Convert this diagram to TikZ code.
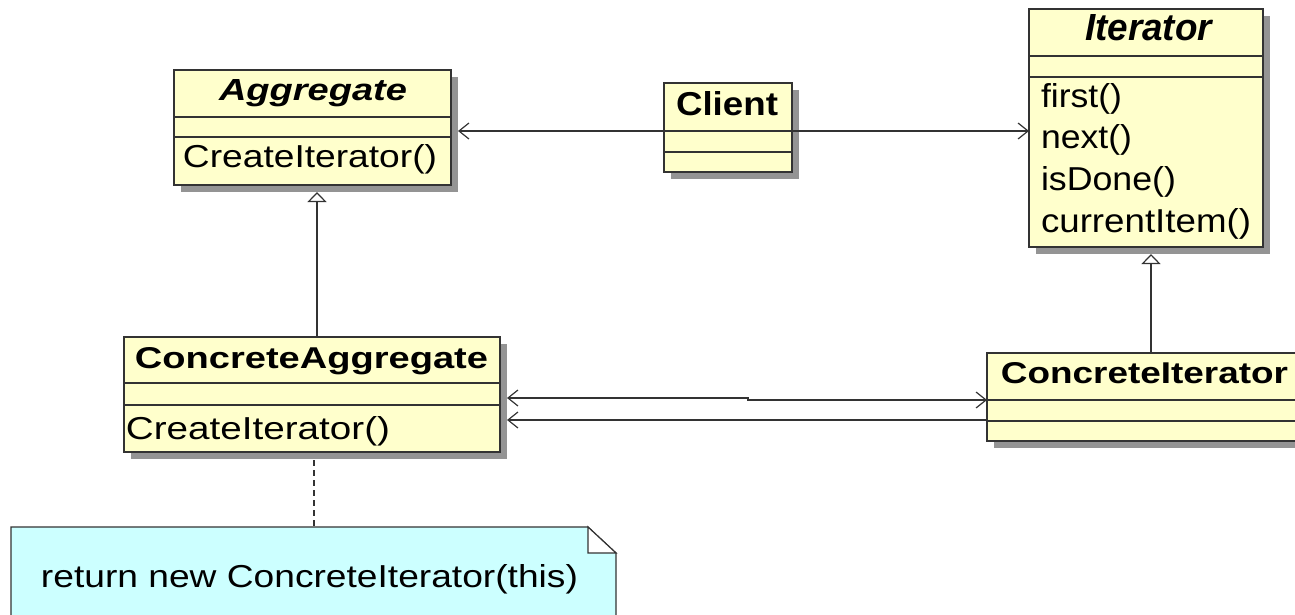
\documentclass[tikz,border=0pt]{standalone}
\usepackage{fontspec}
\setmainfont{Liberation Sans}
\usepackage{graphicx}
\usetikzlibrary{arrows.meta,shadows,calc}
\definecolor{clsfill}{HTML}{FFFFCC}
\definecolor{notefill}{HTML}{CCFFFF}
\definecolor{linec}{HTML}{333333}
\newcommand{\fitbox}[3]{\resizebox{#1pt}{#2pt}{#3}}
\tikzset{
  cls/.style={draw=linec, line width=1.2pt, fill=clsfill, inner sep=0pt, outer sep=0pt, anchor=north west,
    drop shadow={shadow xshift=7pt, shadow yshift=-7pt, fill=black!42, opacity=1}},
  sep/.style={draw=linec, line width=1.2pt},
  txt/.style={inner sep=0pt, outer sep=0pt, anchor=base},
  mtxt/.style={inner sep=0pt, outer sep=0pt, anchor=base west},
  assoc/.style={draw=linec, line width=1.2pt, -{Straight Barb[length=10pt,width=16pt,line width=1.2pt]}},
  assocboth/.style={draw=linec, line width=1.2pt, {Straight Barb[length=10pt,width=16pt,line width=1.2pt]}-{Straight Barb[length=10pt,width=16pt,line width=1.2pt]}},
  inherit/.style={draw=linec, line width=1.2pt, -{Triangle[open,length=10pt,width=19pt,line width=1.2pt,fill=white]}},
  notebox/.style={draw=linec, line width=1.2pt, fill=notefill},
  fold/.style={draw=linec, line width=1.2pt, fill=white},
  anchorbox/.style={inner sep=0pt, outer sep=0pt, anchor=north west}
}
\begin{document}
\begin{tikzpicture}[x=1pt,y=-1pt]
\useasboundingbox (0,0) rectangle (1295,615);
\clip (0,0) rectangle (1295,615);
\fill[white] (0,0) rectangle (1295,615);

% class boxes
\node[cls, minimum width=277pt, minimum height=115pt] (agg) at (174,70) {};
\node[cls, minimum width=128pt, minimum height=89pt] (client) at (664,83) {};
\node[cls, minimum width=234pt, minimum height=238pt] (it) at (1029,9) {};
\node[cls, minimum width=376pt, minimum height=115pt] (ca) at (124,337) {};
\node[cls, minimum width=330pt, minimum height=88pt] (ci) at (987,353) {};

% compartments
\draw[sep] (agg.west |- 0,117) -- (agg.east |- 0,117);
\draw[sep] (agg.west |- 0,137) -- (agg.east |- 0,137);
\draw[sep] (client.west |- 0,131) -- (client.east |- 0,131);
\draw[sep] (client.west |- 0,152) -- (client.east |- 0,152);
\draw[sep] (it.west |- 0,56) -- (it.east |- 0,56);
\draw[sep] (it.west |- 0,77) -- (it.east |- 0,77);
\draw[sep] (ca.west |- 0,383) -- (ca.east |- 0,383);
\draw[sep] (ca.west |- 0,405) -- (ca.east |- 0,405);
\draw[sep] (ci.west |- 0,400) -- (ci.east |- 0,400);
\draw[sep] (ci.west |- 0,421) -- (ci.east |- 0,421);

% texts
\node[txt] (aggT) at (313,101) {\fitbox{188}{21}{\bfseries\itshape Aggregate}};
\node[txt] (aggM) at (310,167) {\fitbox{254}{23}{CreateIterator()}};
\node[txt] (clientT) at (727,115) {\fitbox{102}{24}{\bfseries Client}};
\node[txt] (itT) at (1148.5,41) {\fitbox{127}{26}{\bfseries\itshape Iterator}};
\node[mtxt] (itM1) at (1041,107) {\fitbox{81}{24}{first()}};
\node[mtxt] (itM2) at (1041,148) {\fitbox{91}{24}{next()}};
\node[mtxt] (itM3) at (1041,190) {\fitbox{135}{24}{isDone()}};
\node[mtxt] (itM4) at (1041,232) {\fitbox{210}{24}{currentItem()}};
\node[txt] (caT) at (311.5,368) {\fitbox{353}{21}{\bfseries ConcreteAggregate}};
\node[txt] (caM) at (258,439) {\fitbox{264}{23}{CreateIterator()}};
\node[txt] (ciT) at (1144.5,383) {\fitbox{287}{21}{\bfseries ConcreteIterator}};

% note
\node[anchorbox, minimum width=605pt, minimum height=110pt] (note) at (11,527) {};
\draw[notebox] (note.north west) -- ($(note.north east)+(-28,0)$) -- ($(note.north east)+(0,26)$) -- (note.south east) -- (note.south west) -- cycle;
\draw[fold] ($(note.north east)+(-28,0)$) -- ($(note.north east)+(-28,26)$) -- ($(note.north east)+(0,26)$) -- cycle;
\node[txt] (noteT) at (309.5,587) {\fitbox{537}{23}{return new ConcreteIterator(this)}};

% connectors
\draw[assoc] (client.west |- 0,131) -- ($(agg.east |- 0,131)+(7,0)$);
\draw[assoc] (client.east |- 0,131) -- (it.west |- 0,131);
\draw[inherit] (ca.north -| 317,0) -- ($(agg.south -| 317,0)+(0,7)$);
\draw[inherit] (ci.north -| 1151,0) -- ($(it.south -| 1151,0)+(0,7)$);
\coordinate (bend) at (748,398);
\draw[assocboth] ($(ca.east |- 0,398)+(7,0)$) -- (bend) -- ++(0,2) -- (ci.west |- 0,400);
\draw[assoc] (ci.west |- 0,420) -- ($(ca.east |- 0,420)+(7,0)$);
\draw[draw=linec, line width=1.2pt, dash pattern=on 6pt off 4pt] ($(ca.south -| 314,0)+(0,8)$) -- (note.north -| 314,0);
\end{tikzpicture}
\end{document}
